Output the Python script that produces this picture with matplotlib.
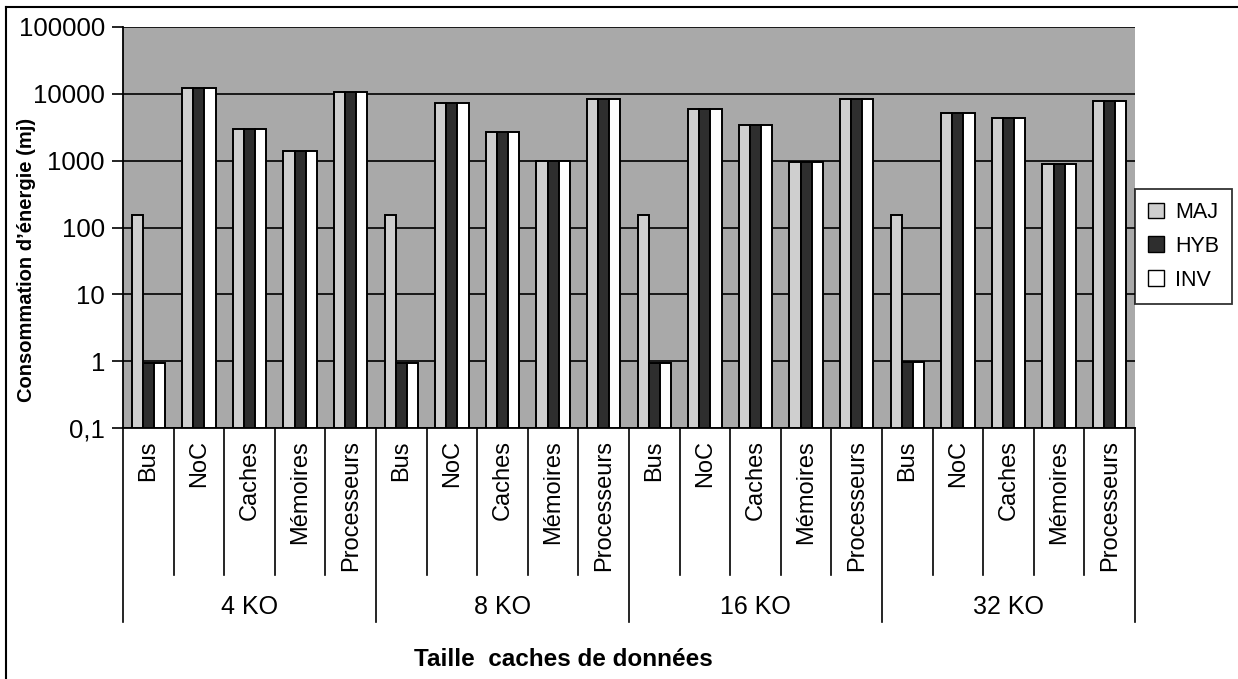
import numpy as np
import matplotlib
matplotlib.use("Agg")
import matplotlib.pyplot as plt
from matplotlib.lines import Line2D
from matplotlib.patches import Patch

plt.rcParams['font.family'] = ['Liberation Sans', 'DejaVu Sans']

# data
tailles = ["4 KO", "8 KO", "16 KO", "32 KO"]
composants = ["Bus", "NoC", "Caches", "Mémoires", "Processeurs"]
series = ["MAJ", "HYB", "INV"]

maj = [155, 12300, 3000, 1400, 10500,
       155, 7200, 2700, 1000, 8400,
       155, 6000, 3400, 950, 8300,
       155, 5200, 4400, 890, 7700]
hyb = [0.83, 12300, 3000, 1400, 10500,
       0.83, 7200, 2700, 1000, 8400,
       0.83, 6000, 3400, 950, 8300,
       0.88, 5200, 4400, 890, 7700]
inv = [0.83, 12300, 3000, 1400, 10500,
       0.83, 7200, 2700, 1000, 8400,
       0.83, 6000, 3400, 950, 8300,
       0.88, 5200, 4400, 890, 7700]

colors = ['#cfcfcf', '#2e2e2e', 'white']
yticks = [0.1, 1, 10, 100, 1000, 10000, 100000]
ytick_labels = ["0,1", "1", "10", "100", "1000", "10000", "100000"]

fig = plt.figure(figsize=(12.38, 6.79), dpi=100)
W, H = 1238, 679
ax = fig.add_axes([123 / W, 1 - 428 / H, 1012 / W, 401 / H])

n = len(maj)
x = np.arange(n)
bw = 0.22
for i, vals in enumerate([maj, hyb, inv]):
    ax.bar(x + (i - 1) * bw, vals, bw, bottom=0.1, color=colors[i],
           edgecolor='black', linewidth=1.4, zorder=3, label=series[i])

ax.set_yscale('log')
ax.set_ylim(0.1, 100000)
ax.set_xlim(-0.5, n - 0.5)
ax.set_facecolor('#a9a9a9')
ax.set_yticks(yticks)
ax.set_yticklabels(ytick_labels, fontsize=18.5)
ax.minorticks_off()
ax.tick_params(axis='y', length=8, width=1.2, direction='out', pad=5)
ax.yaxis.grid(True, color='black', linewidth=1.2, zorder=1)
ax.set_axisbelow(True)
ax.set_xticks([])
for s in ax.spines.values():
    s.set_linewidth(1.3)
ax.spines['top'].set_visible(False)
ax.spines['right'].set_visible(False)

fig.text(27 / W, 1 - 260 / H, "Consommation d\u2019énergie (mj)", rotation=90,
         ha='center', va='center', fontsize=14.5, fontweight='bold')

# multi-level category axis
trans = ax.get_xaxis_transform()
for k in range(n + 1):
    xb = k - 0.5
    ybot = -0.485 if k % 5 == 0 else -0.367
    ax.plot([xb, xb], [0, ybot], color='black', linewidth=1.2, transform=trans, clip_on=False)
for k in range(n):
    ax.text(k, -0.03, composants[k % 5], rotation=90, ha='center', va='top',
            fontsize=17, transform=trans)
for g, t in enumerate(tailles):
    ax.text(g * 5 + 2, -0.447, t, ha='center', va='center', fontsize=18, transform=trans)

fig.text(563 / W, 1 - 660 / H, "Taille  caches de données", ha='center', va='center',
         fontsize=17.5, fontweight='bold')

# legend
handles = [Patch(facecolor=colors[i], edgecolor='black', label=series[i]) for i in range(3)]
leg = fig.legend(handles=handles, loc='upper left', bbox_to_anchor=(1135 / W, 1 - 189 / H),
                 fontsize=15.5, frameon=True, fancybox=False, borderpad=0.6,
                 handlelength=0.75, handleheight=0.75, handletextpad=0.5, labelspacing=0.6,
                 borderaxespad=0)
leg.get_frame().set_edgecolor('black')
leg.get_frame().set_linewidth(1.3)

# outer frame (top and left only)
fig.add_artist(Line2D([6 / W, 6 / W], [0, 1 - 7 / H], color='black', linewidth=1.5))
fig.add_artist(Line2D([6 / W, 1], [1 - 7 / H, 1 - 7 / H], color='black', linewidth=1.5))

fig.savefig("out.png", dpi=100)
